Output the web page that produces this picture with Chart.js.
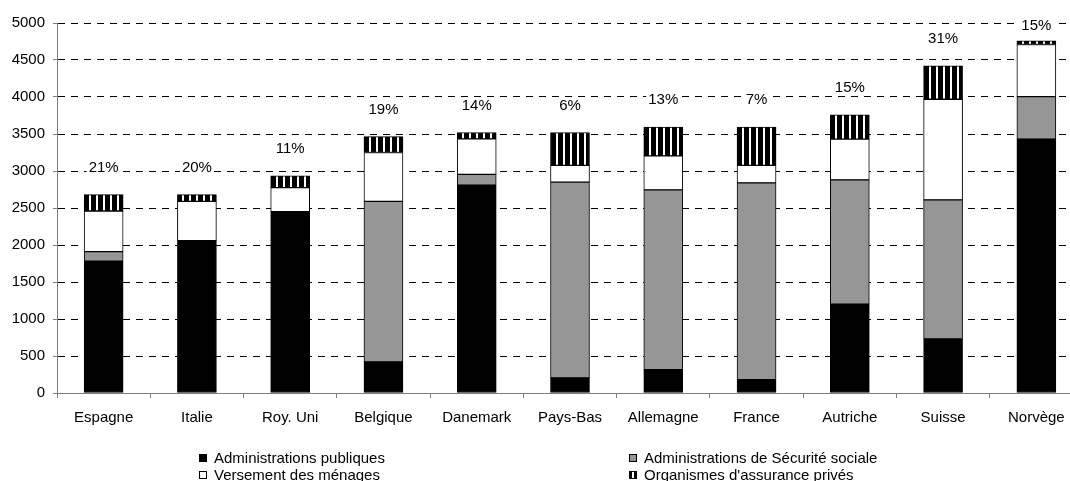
<!DOCTYPE html>
<html>
<head>
<meta charset="utf-8">
<script src="https://cdn.jsdelivr.net/npm/chart.js@4/dist/chart.umd.min.js"></script>
<style>
  html, body { margin: 0; padding: 0; background: #fff; overflow: hidden; width: 1070px; height: 481px; }
  #wrap { position: relative; width: 1070px; height: 481px; overflow: hidden; }
  canvas { position: absolute; left: 0; top: 0; }
  .leg { position: absolute; font-family: "Liberation Sans", Arial, sans-serif; font-size: 15px; line-height: 17px; color: #000; white-space: nowrap; }
  .sw { position: absolute; width: 6px; height: 6px; border: 1px solid #000; box-sizing: content-box; }
</style>
</head>
<body>
<div id="wrap">
  <canvas id="c" width="1100" height="481" style="width:1100px;height:481px"></canvas>
  <div id="legend"></div>
</div>
<script>
const categories = ['Espagne','Italie','Roy. Uni','Belgique','Danemark','Pays-Bas','Allemagne','France','Autriche','Suisse','Norvège'];
const adminPubliques = [1780, 2060, 2450, 420, 2810, 205, 315, 180, 1200, 730, 3430];
const securiteSociale = [130, 0, 0, 2170, 145, 2645, 2430, 2660, 1680, 1880, 575];
const versementMenages = [550, 530, 325, 660, 480, 225, 460, 235, 550, 1360, 705];
const assurancePrivee = [220, 90, 160, 215, 85, 445, 390, 520, 330, 450, 50];
const shareLabels = ['21%','20%','11%','19%','14%','6%','13%','7%','15%','31%','15%'];
const seriesNames = ['Administrations publiques','Administrations de Sécurité sociale','Versement des ménages',"Organismes d'assurance privés"];
const yTicks = [0,500,1000,1500,2000,2500,3000,3500,4000,4500,5000];

const FONT = '"Liberation Sans", Arial, sans-serif';
const BAR_W = 39;

// stripe tile: black with a white vertical line
function makeStripeTile() {
  const t = document.createElement('canvas');
  t.width = 7; t.height = 7;
  const g = t.getContext('2d');
  g.fillStyle = '#000'; g.fillRect(0, 0, 7, 7);
  g.fillStyle = '#fff'; g.fillRect(4, 0, 2, 7);
  return t;
}
const stripeTile = makeStripeTile();
const patternCache = {};
function stripeFor(ctx) {
  const chart = ctx.chart;
  const xs = chart.scales && chart.scales.x;
  if (!xs) return '#000';
  const cx = xs.getPixelForValue(ctx.dataIndex);
  const left = Math.round(cx - BAR_W / 2);
  const key = left;
  if (!patternCache[key]) {
    const p = chart.ctx.createPattern(stripeTile, 'repeat');
    p.setTransform(new DOMMatrix().translate(left + 1, 0));
    patternCache[key] = p;
  }
  return patternCache[key];
}

const labelPlugin = {
  id: 'shareLabels',
  afterDatasetsDraw(chart) {
    const ctx = chart.ctx;
    const meta = chart.getDatasetMeta(3);
    ctx.save();
    ctx.font = '15px ' + FONT;
    ctx.textAlign = 'center';
    ctx.textBaseline = 'middle';
    meta.data.forEach((bar, i) => {
      const y = Math.max(bar.y - 27, 26);
      const txt = shareLabels[i];
      const w = ctx.measureText(txt).width;
      ctx.fillStyle = '#fff';
      ctx.fillRect(bar.x - w / 2 - 2, y - 8, w + 4, 16);
      ctx.fillStyle = '#000';
      ctx.fillText(txt, bar.x, y);
    });
    ctx.restore();
  }
};

const common = { borderColor: '#000', borderWidth: 1, borderSkipped: false, barThickness: BAR_W };

new Chart(document.getElementById('c'), {
  type: 'bar',
  data: {
    labels: categories,
    datasets: [
      Object.assign({ label: seriesNames[0], data: adminPubliques, backgroundColor: '#000' }, common),
      Object.assign({ label: seriesNames[1], data: securiteSociale, backgroundColor: '#969696' }, common),
      Object.assign({ label: seriesNames[2], data: versementMenages, backgroundColor: '#fff' }, common),
      Object.assign({ label: seriesNames[3], data: assurancePrivee, backgroundColor: stripeFor }, common)
    ]
  },
  options: {
    responsive: false,
    animation: false,
    devicePixelRatio: 1,
    layout: { padding: { top: 23, right: 17, bottom: 0, left: 0 } },
    plugins: { legend: { display: false }, tooltip: { enabled: false } },
    scales: {
      x: {
        stacked: true,
        offset: true,
        grid: { display: true, offset: true, drawOnChartArea: false, drawTicks: true, tickLength: 5, color: '#808080', tickColor: '#808080', tickBorderDash: [] },
        border: { display: true, color: '#808080', width: 1 },
        ticks: { color: '#000', font: { family: FONT, size: 15 }, padding: 11, maxRotation: 0, autoSkip: false },
        afterFit(s) { s.height = 88; }
      },
      y: {
        stacked: true,
        min: 0, max: 5000,
        afterBuildTicks(s) { s.ticks = yTicks.map(v => ({ value: v })); },
        grid: { color: '#000', lineWidth: 1, tickLength: 4, tickColor: '#808080', tickBorderDash: [], drawTicks: true },
        border: { display: true, color: '#808080', width: 1, dash: [7, 6] },
        ticks: { color: '#000', font: { family: FONT, size: 15 }, padding: 8, callback: v => String(v) },
        afterFit(s) { s.width = 57; }
      }
    }
  },
  plugins: [labelPlugin]
});

// HTML legend (2 x 2)
const legendSpec = [
  { name: seriesNames[0], x: 199, y: 458, fill: 'background:#000' },
  { name: seriesNames[1], x: 629, y: 458, fill: 'background:#969696' },
  { name: seriesNames[2], x: 199, y: 475, fill: 'background:#fff' },
  { name: seriesNames[3], x: 629, y: 475, fill: 'background:linear-gradient(90deg,#000 0,#000 2px,#fff 2px,#fff 4px,#000 4px)' }
];
const lg = document.getElementById('legend');
legendSpec.forEach(it => {
  const sw = document.createElement('div');
  sw.className = 'sw';
  sw.style.cssText = it.fill + ';left:' + it.x + 'px;top:' + (it.y - 4) + 'px';
  lg.appendChild(sw);
  const t = document.createElement('div');
  t.className = 'leg';
  t.style.left = (it.x + 15) + 'px';
  t.style.top = (it.y - 9) + 'px';
  t.textContent = it.name;
  lg.appendChild(t);
});
</script>
</body>
</html>
